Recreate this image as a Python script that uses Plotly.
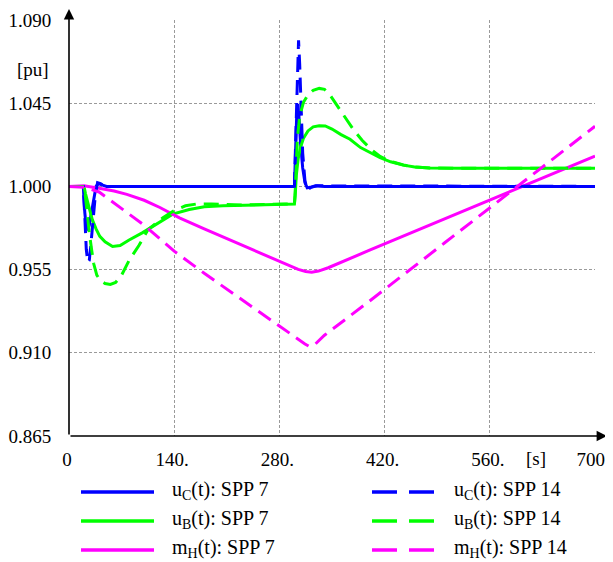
import plotly.graph_objects as go

# ---------------- data ----------------
t_uc7 = [0, 19, 21, 23, 25, 27, 30, 33, 36, 39, 43, 50,
         300, 301.5, 303, 304.5, 306, 308, 311, 314, 317, 321, 328, 340, 700]
uc7 = [1.000, 1.000, 0.986, 0.978, 0.977, 0.979, 0.986, 0.994, 1.000, 1.0015, 1.001, 1.000,
       1.000, 1.020, 1.038, 1.0445, 1.038, 1.024, 1.010, 1.002, 0.9992, 0.9995, 1.0003, 1.000, 1.000]

t_uc14 = [0, 19, 21, 23, 25, 27, 29, 32, 35, 38, 42, 48,
          300, 302, 304, 305.5, 307, 309, 311, 314, 317, 322, 330, 700]
uc14 = [1.000, 1.000, 0.984, 0.966, 0.959, 0.960, 0.968, 0.982, 0.995, 1.002, 1.0015, 1.000,
        1.000, 1.030, 1.065, 1.079, 1.066, 1.040, 1.018, 1.003, 0.998, 0.9995, 1.0003, 1.000]

t_ub7 = [0, 20, 22, 25, 31, 36, 41, 48, 58, 68, 80, 98, 120, 138, 160, 180, 205, 240, 300,
         301, 302.5, 305, 308, 312, 318, 325, 333, 341, 350, 362, 374, 388, 400, 414, 428,
         445, 460, 480, 520, 600, 700]
ub7 = [1.000, 1.000, 0.996, 0.991, 0.982, 0.977, 0.973, 0.970, 0.9675, 0.968, 0.971, 0.975,
       0.9805, 0.985, 0.9875, 0.989, 0.9895, 0.990, 0.9905,
       0.995, 1.006, 1.015, 1.021, 1.026, 1.030, 1.0322, 1.0328, 1.0327, 1.031, 1.028, 1.0255,
       1.021, 1.0184, 1.0155, 1.0133, 1.0115, 1.0105, 1.0100, 1.0098, 1.0098, 1.0098]

t_ub14 = [0, 20, 22, 24, 27, 30, 33, 37, 42, 48, 55, 62, 70, 80, 93, 105, 115, 125, 140, 155,
          170, 190, 230, 300, 301, 302.5, 304, 307, 312, 318, 325, 333, 340, 348, 358, 368,
          378, 390, 402, 414, 428, 445, 460, 480, 520, 700]
ub14 = [1.000, 1.000, 0.994, 0.986, 0.975, 0.966, 0.958, 0.952, 0.949, 0.9475, 0.947, 0.948,
        0.952, 0.960, 0.968, 0.9765, 0.980, 0.983, 0.987, 0.9895, 0.9905, 0.9905, 0.990, 0.9905,
        0.997, 1.012, 1.026, 1.038, 1.0455, 1.0495, 1.052, 1.053, 1.0525, 1.049, 1.043, 1.037,
        1.031, 1.025, 1.020, 1.0162, 1.0135, 1.0116, 1.0105, 1.0100, 1.0098, 1.0098]

t_mh7 = [0, 20, 40, 60, 77, 100, 121, 147, 180, 220, 260, 280, 295, 305, 315, 323, 332, 345,
         400, 500, 600, 700]
mh7 = [1.000, 1.0003, 0.999, 0.9975, 0.9957, 0.9925, 0.9886, 0.983, 0.977, 0.970, 0.963,
       0.9595, 0.9567, 0.9551, 0.9540, 0.9536, 0.9542, 0.9560, 0.9655, 0.9825, 0.9995, 1.0164]

t_mh14 = [0, 20, 40, 60, 80, 100, 120, 140, 180, 220, 260, 290, 305, 314, 320, 326, 340, 355,
          400, 500, 600, 700]
mh14 = [1.000, 0.9995, 0.997, 0.991, 0.9855, 0.979, 0.972, 0.965, 0.953, 0.9415, 0.930, 0.9215,
        0.9175, 0.9148, 0.9134, 0.914, 0.9195, 0.924, 0.938, 0.9695, 1.001, 1.0325]

x_ticks = [0, 140, 280, 420, 560, 700]
x_ticktext = ["0", "140.", "280.", "420.", "560.", "700."]
y_ticks = [0.865, 0.910, 0.955, 1.000, 1.045, 1.090]
y_ticktext = ["0.865", "0.910", "0.955", "1.000", "1.045", "1.090"]

legend_names = ["u<sub>C</sub>(t): SPP 7", "u<sub>B</sub>(t): SPP 7", "m<sub>H</sub>(t): SPP 7",
                "u<sub>C</sub>(t): SPP 14", "u<sub>B</sub>(t): SPP 14", "m<sub>H</sub>(t): SPP 14"]

# ---------------- style ----------------
BLUE, GREEN, MAG = "#0000ff", "#00ff00", "#ff00ff"
FONT = "'Liberation Serif', 'Times New Roman', Times, serif"
OFF = 8                      # page body margin of the browser
W, H = 613 - OFF, 562 - OFF
# plot area in window pixels: x 69.5..594.5, y 20..436
ML, MR, MT, MB = 69 - OFF, 613 - 595, 20 - OFF, 562 - 436
PW, PH = W - ML - MR, H - MT - MB
DASH = "15px,8px"


def px(xw):
    """window x pixel -> paper x"""
    return (xw - OFF - ML) / PW


def py(yw):
    """window y pixel -> paper y"""
    return (H - MB - (yw - OFF)) / PH


fig = go.Figure()
series = [
    (t_uc7, uc7, BLUE, "solid", legend_names[0]),
    (t_ub7, ub7, GREEN, "solid", legend_names[1]),
    (t_mh7, mh7, MAG, "solid", legend_names[2]),
    (t_uc14, uc14, BLUE, DASH, legend_names[3]),
    (t_ub14, ub14, GREEN, DASH, legend_names[4]),
    (t_mh14, mh14, MAG, DASH, legend_names[5]),
]
for tx, vy, col, dash, name in series:
    fig.add_trace(go.Scatter(x=tx, y=vy, mode="lines", name=name,
                             line=dict(color=col, width=3, dash=dash)))

axis_common = dict(showline=False, zeroline=False, showgrid=True,
                   gridcolor="#9a9a9a", gridwidth=1, griddash="3px,2px",
                   ticks="outside", tickcolor="rgba(0,0,0,0)",
                   tickfont=dict(family=FONT, size=19, color="black"))
fig.update_xaxes(range=[0, 700], tickvals=x_ticks, ticktext=x_ticktext, ticklen=6,
                 ticklabelshift=-2, ticklabeloverflow="allow", **axis_common)
fig.update_yaxes(range=[0.865, 1.090], tickvals=y_ticks, ticktext=y_ticktext, ticklen=13,
                 **axis_common)

annotations = []
shapes = []
# axis lines with arrow heads
annotations.append(dict(x=px(607), y=0, xref="paper", yref="paper", text="", showarrow=True,
                        ax=-(607 - 69), ay=0, axref="pixel", ayref="pixel",
                        arrowhead=2, arrowsize=1.3, arrowwidth=1.6, arrowcolor="black"))
annotations.append(dict(x=0, y=py(7), xref="paper", yref="paper", text="", showarrow=True,
                        ax=0, ay=(436 - 7), axref="pixel", ayref="pixel",
                        arrowhead=2, arrowsize=1.3, arrowwidth=1.6, arrowcolor="black"))
# unit labels
annotations.append(dict(x=px(33), y=py(69), xref="paper", yref="paper", text="[pu]",
                        showarrow=False, xanchor="center", yanchor="middle",
                        font=dict(family=FONT, size=19, color="black")))
annotations.append(dict(x=px(536), y=py(458), xref="paper", yref="paper", text="[s]",
                        showarrow=False, xanchor="center", yanchor="middle",
                        font=dict(family=FONT, size=19, color="black")))

# manual legend
rows = [492, 521, 550]
cols = [BLUE, GREEN, MAG]
for i, (ry, col) in enumerate(zip(rows, cols)):
    shapes.append(dict(type="line", xref="paper", yref="paper", x0=px(81), x1=px(154),
                       y0=py(ry), y1=py(ry), line=dict(color=col, width=3.5)))
    for a, b in [(372, 397), (409, 434)]:
        shapes.append(dict(type="line", xref="paper", yref="paper", x0=px(a), x1=px(b),
                           y0=py(ry), y1=py(ry), line=dict(color=col, width=3.5)))
    annotations.append(dict(x=px(170), y=py(ry - 2), xref="paper", yref="paper",
                            text=legend_names[i], showarrow=False, xanchor="left",
                            yanchor="middle", font=dict(family=FONT, size=20, color="black")))
    annotations.append(dict(x=px(452), y=py(ry - 2), xref="paper", yref="paper",
                            text=legend_names[i + 3], showarrow=False, xanchor="left",
                            yanchor="middle", font=dict(family=FONT, size=20, color="black")))

fig.update_layout(width=W, height=H,
                  margin=dict(l=ML, r=MR, t=MT, b=MB, pad=0, autoexpand=False),
                  paper_bgcolor="white", plot_bgcolor="white", showlegend=False,
                  annotations=annotations, shapes=shapes,
                  font=dict(family=FONT, color="black"))

fig.write_html("out.html")
